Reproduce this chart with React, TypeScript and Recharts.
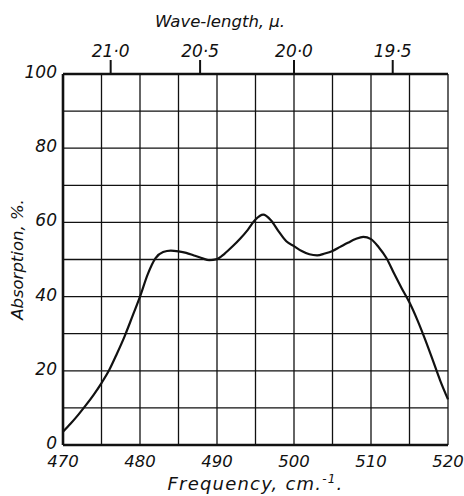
import React from 'react'
import { CartesianGrid, Label, Line, LineChart, XAxis, YAxis } from 'recharts'

// absorption spectrum
const FREQ = [
  470, 471, 472, 473, 474, 475, 476, 477, 478, 479,
  480, 481, 482, 483, 484, 485, 486, 487, 488, 489,
  490, 491, 492, 493, 494, 495, 496, 497, 498, 499,
  500, 501, 502, 503, 504, 505, 506, 507, 508, 509,
  510, 511, 512, 513, 514, 515, 516, 517, 518, 519, 520,
]
const ABSORPTION = [
  3.6, 5.8, 8.2, 10.8, 13.6, 16.7, 20.2, 24.6, 29.3, 34.6,
  40, 46, 50.3, 52, 52.4, 52.2, 51.8, 51.1, 50.4, 49.8,
  50.1, 51.6, 53.5, 55.6, 58, 60.8, 62.1, 60.6, 57.6, 54.9,
  53.6, 52.3, 51.4, 51.1, 51.6, 52.3, 53.4, 54.5, 55.5, 56.1,
  55.5, 53.3, 50.4, 46.2, 42.2, 38.4, 33.8, 28.6, 23, 17.3, 12.3,
]
const FREQ_TICKS = [470, 475, 480, 485, 490, 495, 500, 505, 510, 515, 520]
const ABS_TICKS = [0, 10, 20, 30, 40, 50, 60, 70, 80, 90, 100]
const WAVELENGTHS = [21.0, 20.5, 20.0, 19.5]

const data = FREQ.map((f, i) => ({ freq: f, abs: ABSORPTION[i] }))

const FONT = 'DejaVu Sans'
const tickStyle = { fontFamily: FONT, fontStyle: 'italic', fontSize: 17, fill: '#111' }

const App: React.FC = () => {
  return (
    <div style={{ position: 'absolute', left: 0, top: 0, width: 464, height: 496, background: '#fff' }}>
      <LineChart width={464} height={496} data={data} margin={{ top: 0, right: 16, left: 23, bottom: 21 }}>
        <CartesianGrid stroke="#111" strokeWidth={1.3} />
        <XAxis
          dataKey="freq"
          type="number"
          domain={[470, 520]}
          ticks={FREQ_TICKS}
          interval={0}
          height={30}
          tickLine={false}
          tickSize={4}
          tickMargin={6}
          tick={{ ...tickStyle, fontSize: 16.5 }}
          tickFormatter={(v: number) => (v % 10 === 0 ? String(v) : '')}
          axisLine={{ stroke: '#111', strokeWidth: 2.6 }}
        >
          <Label
            content={({ viewBox }: any) => (
              <text x={viewBox.x + viewBox.width / 2} y={viewBox.y + 45} textAnchor="middle"
                style={{ fontFamily: FONT, fontStyle: 'italic', fontSize: 18, letterSpacing: 1.2, fill: '#111' }}>
                Frequency, cm.
                <tspan dy={-7} fontSize={12}>-1</tspan>
                <tspan dy={7}>.</tspan>
              </text>
            )}
          />
        </XAxis>
        <XAxis
          xAxisId="wl"
          orientation="top"
          dataKey="freq"
          type="number"
          domain={[470, 520]}
          ticks={WAVELENGTHS.map(w => 10000 / w)}
          interval={0}
          height={74}
          tickSize={14}
          tickMargin={3}
          tick={tickStyle}
          tickLine={{ stroke: '#111', strokeWidth: 2 }}
          tickFormatter={(v: number) => (10000 / v).toFixed(1).replace('.', '·')}
          axisLine={{ stroke: '#111', strokeWidth: 2.6 }}
        >
          <Label
            content={({ viewBox }: any) => (
              <text x={220} y={viewBox.y + 27} textAnchor="middle"
                style={{ fontFamily: FONT, fontStyle: 'italic', fontSize: 16.5, fill: '#111' }}>
                Wave-length, μ.
              </text>
            )}
          />
        </XAxis>
        <YAxis
          type="number"
          domain={[0, 100]}
          ticks={ABS_TICKS}
          interval={0}
          width={40}
          tickLine={false}
          tickSize={4}
          tickMargin={2}
          tick={{ ...tickStyle, dy: -2 }}
          tickFormatter={(v: number) => (v % 20 === 0 ? String(v) : '')}
          axisLine={{ stroke: '#111', strokeWidth: 2.6 }}
        >
          <Label
            content={({ viewBox }: any) => {
              const cx = viewBox.x - 6
              const cy = viewBox.y + viewBox.height / 2
              return (
                <text x={cx} y={cy} textAnchor="middle" dominantBaseline="central"
                  transform={`rotate(-90 ${cx} ${cy})`}
                  style={{ fontFamily: FONT, fontStyle: 'italic', fontSize: 16.5, fill: '#111' }}>
                  Absorption, %.
                </text>
              )
            }}
          />
        </YAxis>
        <YAxis
          yAxisId="r"
          orientation="right"
          type="number"
          domain={[0, 100]}
          width={0}
          tick={false}
          tickLine={false}
          axisLine={{ stroke: '#111', strokeWidth: 2.6 }}
        />
        <Line
          type="monotone"
          dataKey="abs"
          stroke="#111"
          strokeWidth={2.2}
          dot={false}
          isAnimationActive={false}
        />
      </LineChart>
    </div>
  )
}

export default App
